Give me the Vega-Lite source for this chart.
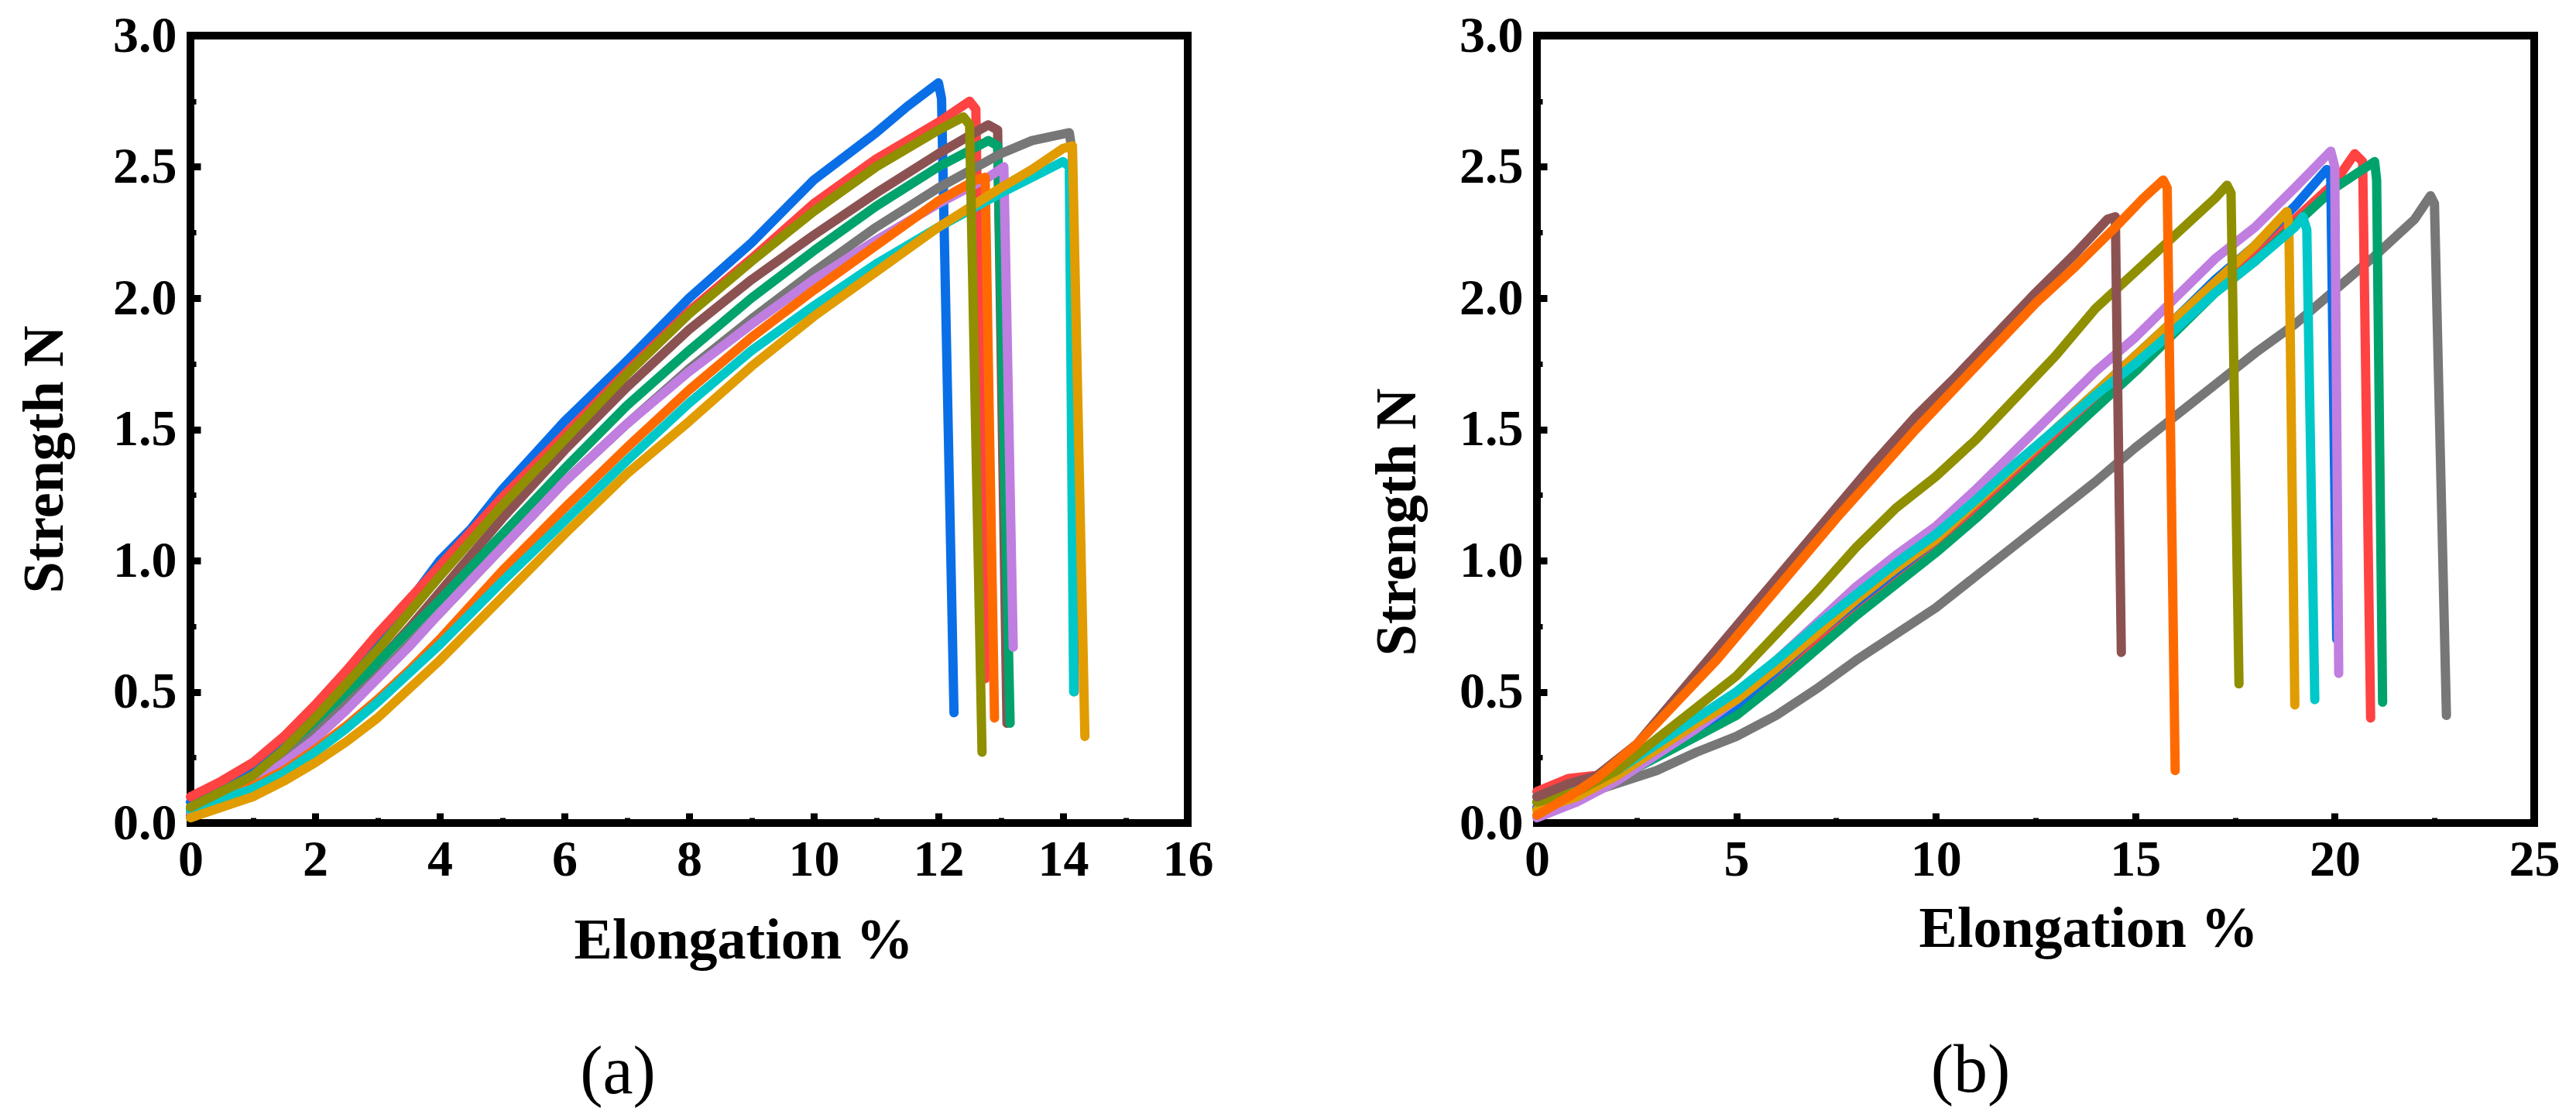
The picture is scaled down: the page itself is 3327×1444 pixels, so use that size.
{
  "$schema": "https://vega.github.io/schema/vega-lite/v6.json",
  "padding": {"left": 16, "top": 8, "right": 10, "bottom": 10},
  "background": "white",
  "bounds": "flush",
  "spacing": 451,
  "datasets": {
    "a": [
      {"s":"blue","x":0,"y":0.08},{"s":"blue","x":0.5,"y":0.14},{"s":"blue","x":1,"y":0.22},{"s":"blue","x":1.5,"y":0.32},{"s":"blue","x":2,"y":0.44},{"s":"blue","x":2.5,"y":0.57},{"s":"blue","x":3,"y":0.7},{"s":"blue","x":3.5,"y":0.84},{"s":"blue","x":4,"y":1.0},{"s":"blue","x":4.5,"y":1.12},{"s":"blue","x":5,"y":1.27},{"s":"blue","x":6,"y":1.53},{"s":"blue","x":7,"y":1.76},{"s":"blue","x":8,"y":2.0},{"s":"blue","x":9,"y":2.21},{"s":"blue","x":10,"y":2.45},{"s":"blue","x":11,"y":2.63},{"s":"blue","x":11.5,"y":2.73},{"s":"blue","x":12,"y":2.82},{"s":"blue","x":12.05,"y":2.76},{"s":"blue","x":12.25,"y":0.42},
      {"s":"red","x":0,"y":0.1},{"s":"red","x":0.5,"y":0.16},{"s":"red","x":1,"y":0.23},{"s":"red","x":1.5,"y":0.33},{"s":"red","x":2,"y":0.45},{"s":"red","x":2.5,"y":0.58},{"s":"red","x":3,"y":0.72},{"s":"red","x":3.5,"y":0.85},{"s":"red","x":4,"y":0.98},{"s":"red","x":5,"y":1.24},{"s":"red","x":6,"y":1.48},{"s":"red","x":7,"y":1.72},{"s":"red","x":8,"y":1.95},{"s":"red","x":9,"y":2.15},{"s":"red","x":10,"y":2.36},{"s":"red","x":11,"y":2.53},{"s":"red","x":12,"y":2.67},{"s":"red","x":12.5,"y":2.75},{"s":"red","x":12.6,"y":2.72},{"s":"red","x":12.75,"y":0.55},
      {"s":"brown","x":0,"y":0.03},{"s":"brown","x":0.5,"y":0.08},{"s":"brown","x":1,"y":0.15},{"s":"brown","x":1.5,"y":0.24},{"s":"brown","x":2,"y":0.36},{"s":"brown","x":2.5,"y":0.48},{"s":"brown","x":3,"y":0.61},{"s":"brown","x":3.5,"y":0.74},{"s":"brown","x":4,"y":0.88},{"s":"brown","x":5,"y":1.16},{"s":"brown","x":6,"y":1.42},{"s":"brown","x":7,"y":1.66},{"s":"brown","x":8,"y":1.88},{"s":"brown","x":9,"y":2.07},{"s":"brown","x":10,"y":2.24},{"s":"brown","x":11,"y":2.4},{"s":"brown","x":12,"y":2.55},{"s":"brown","x":12.8,"y":2.66},{"s":"brown","x":12.95,"y":2.64},{"s":"brown","x":13.1,"y":0.38},
      {"s":"green","x":0,"y":0.05},{"s":"green","x":0.5,"y":0.1},{"s":"green","x":1,"y":0.17},{"s":"green","x":1.5,"y":0.26},{"s":"green","x":2,"y":0.37},{"s":"green","x":2.5,"y":0.49},{"s":"green","x":3,"y":0.61},{"s":"green","x":3.5,"y":0.73},{"s":"green","x":4,"y":0.85},{"s":"green","x":5,"y":1.1},{"s":"green","x":6,"y":1.35},{"s":"green","x":7,"y":1.59},{"s":"green","x":8,"y":1.8},{"s":"green","x":9,"y":2.0},{"s":"green","x":10,"y":2.18},{"s":"green","x":11,"y":2.35},{"s":"green","x":12,"y":2.5},{"s":"green","x":12.8,"y":2.6},{"s":"green","x":12.95,"y":2.58},{"s":"green","x":13.15,"y":0.38},
      {"s":"gray","x":0,"y":0.05},{"s":"gray","x":0.5,"y":0.1},{"s":"gray","x":1,"y":0.16},{"s":"gray","x":1.5,"y":0.24},{"s":"gray","x":2,"y":0.34},{"s":"gray","x":2.5,"y":0.45},{"s":"gray","x":3,"y":0.56},{"s":"gray","x":3.5,"y":0.68},{"s":"gray","x":4,"y":0.8},{"s":"gray","x":5,"y":1.05},{"s":"gray","x":6,"y":1.3},{"s":"gray","x":7,"y":1.52},{"s":"gray","x":8,"y":1.73},{"s":"gray","x":9,"y":1.92},{"s":"gray","x":10,"y":2.1},{"s":"gray","x":11,"y":2.27},{"s":"gray","x":12,"y":2.42},{"s":"gray","x":13,"y":2.55},{"s":"gray","x":13.5,"y":2.6},{"s":"gray","x":14.1,"y":2.63},{"s":"gray","x":14.15,"y":2.55},{"s":"gray","x":14.18,"y":0.5},
      {"s":"purple","x":0,"y":0.04},{"s":"purple","x":0.5,"y":0.09},{"s":"purple","x":1,"y":0.15},{"s":"purple","x":1.5,"y":0.23},{"s":"purple","x":2,"y":0.32},{"s":"purple","x":2.5,"y":0.43},{"s":"purple","x":3,"y":0.55},{"s":"purple","x":3.5,"y":0.67},{"s":"purple","x":4,"y":0.8},{"s":"purple","x":5,"y":1.05},{"s":"purple","x":6,"y":1.3},{"s":"purple","x":7,"y":1.52},{"s":"purple","x":8,"y":1.72},{"s":"purple","x":9,"y":1.9},{"s":"purple","x":10,"y":2.07},{"s":"purple","x":11,"y":2.22},{"s":"purple","x":12,"y":2.36},{"s":"purple","x":12.8,"y":2.46},{"s":"purple","x":13.05,"y":2.5},{"s":"purple","x":13.2,"y":0.67},
      {"s":"orange","x":0,"y":0.06},{"s":"orange","x":0.5,"y":0.1},{"s":"orange","x":1,"y":0.14},{"s":"orange","x":1.5,"y":0.2},{"s":"orange","x":2,"y":0.28},{"s":"orange","x":2.5,"y":0.37},{"s":"orange","x":3,"y":0.47},{"s":"orange","x":3.5,"y":0.58},{"s":"orange","x":4,"y":0.7},{"s":"orange","x":5,"y":0.96},{"s":"orange","x":6,"y":1.2},{"s":"orange","x":7,"y":1.43},{"s":"orange","x":8,"y":1.65},{"s":"orange","x":9,"y":1.85},{"s":"orange","x":10,"y":2.03},{"s":"orange","x":11,"y":2.2},{"s":"orange","x":12,"y":2.37},{"s":"orange","x":12.6,"y":2.45},{"s":"orange","x":12.75,"y":2.46},{"s":"orange","x":12.9,"y":0.4},
      {"s":"cyan","x":0,"y":0.05},{"s":"cyan","x":0.5,"y":0.09},{"s":"cyan","x":1,"y":0.13},{"s":"cyan","x":1.5,"y":0.19},{"s":"cyan","x":2,"y":0.27},{"s":"cyan","x":2.5,"y":0.36},{"s":"cyan","x":3,"y":0.46},{"s":"cyan","x":3.5,"y":0.57},{"s":"cyan","x":4,"y":0.68},{"s":"cyan","x":5,"y":0.92},{"s":"cyan","x":6,"y":1.15},{"s":"cyan","x":7,"y":1.38},{"s":"cyan","x":8,"y":1.6},{"s":"cyan","x":9,"y":1.8},{"s":"cyan","x":10,"y":1.97},{"s":"cyan","x":11,"y":2.13},{"s":"cyan","x":12,"y":2.27},{"s":"cyan","x":13,"y":2.4},{"s":"cyan","x":13.5,"y":2.46},{"s":"cyan","x":14,"y":2.52},{"s":"cyan","x":14.1,"y":2.5},{"s":"cyan","x":14.17,"y":0.5},
      {"s":"gold","x":0,"y":0.02},{"s":"gold","x":0.5,"y":0.06},{"s":"gold","x":1,"y":0.1},{"s":"gold","x":1.5,"y":0.16},{"s":"gold","x":2,"y":0.23},{"s":"gold","x":2.5,"y":0.31},{"s":"gold","x":3,"y":0.4},{"s":"gold","x":3.5,"y":0.51},{"s":"gold","x":4,"y":0.62},{"s":"gold","x":5,"y":0.86},{"s":"gold","x":6,"y":1.1},{"s":"gold","x":7,"y":1.33},{"s":"gold","x":8,"y":1.53},{"s":"gold","x":9,"y":1.74},{"s":"gold","x":10,"y":1.93},{"s":"gold","x":11,"y":2.1},{"s":"gold","x":12,"y":2.27},{"s":"gold","x":13,"y":2.42},{"s":"gold","x":13.5,"y":2.49},{"s":"gold","x":14,"y":2.57},{"s":"gold","x":14.15,"y":2.58},{"s":"gold","x":14.35,"y":0.33},
      {"s":"olive","x":0,"y":0.06},{"s":"olive","x":0.5,"y":0.12},{"s":"olive","x":1,"y":0.18},{"s":"olive","x":1.5,"y":0.28},{"s":"olive","x":2,"y":0.4},{"s":"olive","x":2.5,"y":0.53},{"s":"olive","x":3,"y":0.66},{"s":"olive","x":3.5,"y":0.8},{"s":"olive","x":4,"y":0.94},{"s":"olive","x":5,"y":1.21},{"s":"olive","x":6,"y":1.46},{"s":"olive","x":7,"y":1.71},{"s":"olive","x":8,"y":1.94},{"s":"olive","x":9,"y":2.14},{"s":"olive","x":10,"y":2.33},{"s":"olive","x":11,"y":2.5},{"s":"olive","x":12,"y":2.64},{"s":"olive","x":12.4,"y":2.69},{"s":"olive","x":12.5,"y":2.66},{"s":"olive","x":12.7,"y":0.27}
    ],
    "b": [
      {"s":"gray","x":0,"y":0.05},{"s":"gray","x":1,"y":0.1},{"s":"gray","x":2,"y":0.15},{"s":"gray","x":3,"y":0.2},{"s":"gray","x":4,"y":0.27},{"s":"gray","x":5,"y":0.33},{"s":"gray","x":6,"y":0.41},{"s":"gray","x":7,"y":0.51},{"s":"gray","x":8,"y":0.62},{"s":"gray","x":9,"y":0.72},{"s":"gray","x":10,"y":0.82},{"s":"gray","x":11,"y":0.94},{"s":"gray","x":12,"y":1.06},{"s":"gray","x":13,"y":1.18},{"s":"gray","x":14,"y":1.3},{"s":"gray","x":15,"y":1.43},{"s":"gray","x":16,"y":1.55},{"s":"gray","x":17,"y":1.67},{"s":"gray","x":18,"y":1.79},{"s":"gray","x":19,"y":1.9},{"s":"gray","x":20,"y":2.03},{"s":"gray","x":21,"y":2.16},{"s":"gray","x":22,"y":2.3},{"s":"gray","x":22.4,"y":2.39},{"s":"gray","x":22.5,"y":2.36},{"s":"gray","x":22.8,"y":0.41},
      {"s":"red","x":0,"y":0.12},{"s":"red","x":0.8,"y":0.17},{"s":"red","x":2,"y":0.19},{"s":"red","x":3,"y":0.27},{"s":"red","x":4,"y":0.35},{"s":"red","x":5,"y":0.43},{"s":"red","x":6,"y":0.56},{"s":"red","x":7,"y":0.69},{"s":"red","x":8,"y":0.82},{"s":"red","x":9,"y":0.94},{"s":"red","x":10,"y":1.05},{"s":"red","x":11,"y":1.18},{"s":"red","x":12,"y":1.32},{"s":"red","x":13,"y":1.47},{"s":"red","x":14,"y":1.6},{"s":"red","x":15,"y":1.74},{"s":"red","x":16,"y":1.88},{"s":"red","x":17,"y":2.03},{"s":"red","x":18,"y":2.16},{"s":"red","x":19,"y":2.3},{"s":"red","x":20,"y":2.44},{"s":"red","x":20.5,"y":2.55},{"s":"red","x":20.7,"y":2.52},{"s":"red","x":20.9,"y":0.4},
      {"s":"green","x":0,"y":0.08},{"s":"green","x":1,"y":0.12},{"s":"green","x":2,"y":0.17},{"s":"green","x":3,"y":0.25},{"s":"green","x":4,"y":0.33},{"s":"green","x":5,"y":0.41},{"s":"green","x":6,"y":0.53},{"s":"green","x":7,"y":0.66},{"s":"green","x":8,"y":0.79},{"s":"green","x":9,"y":0.91},{"s":"green","x":10,"y":1.03},{"s":"green","x":11,"y":1.16},{"s":"green","x":12,"y":1.3},{"s":"green","x":13,"y":1.44},{"s":"green","x":14,"y":1.58},{"s":"green","x":15,"y":1.72},{"s":"green","x":16,"y":1.87},{"s":"green","x":17,"y":2.02},{"s":"green","x":18,"y":2.14},{"s":"green","x":19,"y":2.28},{"s":"green","x":20,"y":2.42},{"s":"green","x":20.5,"y":2.47},{"s":"green","x":21,"y":2.52},{"s":"green","x":21.05,"y":2.45},{"s":"green","x":21.2,"y":0.46},
      {"s":"blue","x":0,"y":0.06},{"s":"blue","x":1,"y":0.1},{"s":"blue","x":2,"y":0.17},{"s":"blue","x":3,"y":0.27},{"s":"blue","x":4,"y":0.36},{"s":"blue","x":5,"y":0.45},{"s":"blue","x":6,"y":0.58},{"s":"blue","x":7,"y":0.72},{"s":"blue","x":8,"y":0.84},{"s":"blue","x":9,"y":0.96},{"s":"blue","x":10,"y":1.08},{"s":"blue","x":11,"y":1.22},{"s":"blue","x":12,"y":1.36},{"s":"blue","x":13,"y":1.5},{"s":"blue","x":14,"y":1.64},{"s":"blue","x":15,"y":1.78},{"s":"blue","x":16,"y":1.92},{"s":"blue","x":17,"y":2.07},{"s":"blue","x":18,"y":2.2},{"s":"blue","x":19,"y":2.35},{"s":"blue","x":19.8,"y":2.49},{"s":"blue","x":19.9,"y":2.46},{"s":"blue","x":20.05,"y":0.7},
      {"s":"purple","x":0,"y":0.02},{"s":"purple","x":1,"y":0.08},{"s":"purple","x":2,"y":0.16},{"s":"purple","x":3,"y":0.26},{"s":"purple","x":4,"y":0.36},{"s":"purple","x":5,"y":0.47},{"s":"purple","x":6,"y":0.62},{"s":"purple","x":7,"y":0.76},{"s":"purple","x":8,"y":0.9},{"s":"purple","x":9,"y":1.02},{"s":"purple","x":10,"y":1.13},{"s":"purple","x":11,"y":1.27},{"s":"purple","x":12,"y":1.42},{"s":"purple","x":13,"y":1.57},{"s":"purple","x":14,"y":1.72},{"s":"purple","x":15,"y":1.85},{"s":"purple","x":16,"y":2.0},{"s":"purple","x":17,"y":2.15},{"s":"purple","x":18,"y":2.27},{"s":"purple","x":19,"y":2.42},{"s":"purple","x":19.9,"y":2.56},{"s":"purple","x":20,"y":2.5},{"s":"purple","x":20.1,"y":0.57},
      {"s":"gold","x":0,"y":0.05},{"s":"gold","x":1,"y":0.1},{"s":"gold","x":2,"y":0.18},{"s":"gold","x":3,"y":0.28},{"s":"gold","x":4,"y":0.38},{"s":"gold","x":5,"y":0.47},{"s":"gold","x":6,"y":0.59},{"s":"gold","x":7,"y":0.72},{"s":"gold","x":8,"y":0.85},{"s":"gold","x":9,"y":0.97},{"s":"gold","x":10,"y":1.08},{"s":"gold","x":11,"y":1.22},{"s":"gold","x":12,"y":1.36},{"s":"gold","x":13,"y":1.5},{"s":"gold","x":14,"y":1.64},{"s":"gold","x":15,"y":1.78},{"s":"gold","x":16,"y":1.92},{"s":"gold","x":17,"y":2.06},{"s":"gold","x":18,"y":2.2},{"s":"gold","x":18.8,"y":2.33},{"s":"gold","x":18.85,"y":2.28},{"s":"gold","x":19,"y":0.45},
      {"s":"cyan","x":0,"y":0.1},{"s":"cyan","x":1,"y":0.13},{"s":"cyan","x":2,"y":0.2},{"s":"cyan","x":3,"y":0.3},{"s":"cyan","x":4,"y":0.4},{"s":"cyan","x":5,"y":0.5},{"s":"cyan","x":6,"y":0.62},{"s":"cyan","x":7,"y":0.75},{"s":"cyan","x":8,"y":0.87},{"s":"cyan","x":9,"y":0.99},{"s":"cyan","x":10,"y":1.1},{"s":"cyan","x":11,"y":1.23},{"s":"cyan","x":12,"y":1.37},{"s":"cyan","x":13,"y":1.5},{"s":"cyan","x":14,"y":1.63},{"s":"cyan","x":15,"y":1.75},{"s":"cyan","x":16,"y":1.88},{"s":"cyan","x":17,"y":2.02},{"s":"cyan","x":18,"y":2.14},{"s":"cyan","x":19,"y":2.27},{"s":"cyan","x":19.2,"y":2.31},{"s":"cyan","x":19.3,"y":2.26},{"s":"cyan","x":19.5,"y":0.47},
      {"s":"olive","x":0,"y":0.08},{"s":"olive","x":1,"y":0.12},{"s":"olive","x":2,"y":0.2},{"s":"olive","x":3,"y":0.32},{"s":"olive","x":4,"y":0.44},{"s":"olive","x":5,"y":0.56},{"s":"olive","x":6,"y":0.72},{"s":"olive","x":7,"y":0.88},{"s":"olive","x":8,"y":1.05},{"s":"olive","x":9,"y":1.2},{"s":"olive","x":10,"y":1.32},{"s":"olive","x":11,"y":1.46},{"s":"olive","x":12,"y":1.62},{"s":"olive","x":13,"y":1.78},{"s":"olive","x":14,"y":1.96},{"s":"olive","x":15,"y":2.1},{"s":"olive","x":16,"y":2.24},{"s":"olive","x":17,"y":2.38},{"s":"olive","x":17.3,"y":2.43},{"s":"olive","x":17.4,"y":2.4},{"s":"olive","x":17.6,"y":0.53},
      {"s":"brown","x":0,"y":0.1},{"s":"brown","x":0.8,"y":0.15},{"s":"brown","x":1.5,"y":0.18},{"s":"brown","x":2.5,"y":0.3},{"s":"brown","x":3.5,"y":0.48},{"s":"brown","x":4.5,"y":0.66},{"s":"brown","x":5.5,"y":0.84},{"s":"brown","x":6.5,"y":1.02},{"s":"brown","x":7.5,"y":1.2},{"s":"brown","x":8.5,"y":1.38},{"s":"brown","x":9.5,"y":1.55},{"s":"brown","x":10.5,"y":1.7},{"s":"brown","x":11.5,"y":1.86},{"s":"brown","x":12.5,"y":2.02},{"s":"brown","x":13.5,"y":2.17},{"s":"brown","x":14.3,"y":2.3},{"s":"brown","x":14.5,"y":2.31},{"s":"brown","x":14.65,"y":0.65},
      {"s":"orange","x":0,"y":0.03},{"s":"orange","x":0.8,"y":0.1},{"s":"orange","x":1.5,"y":0.17},{"s":"orange","x":2.5,"y":0.3},{"s":"orange","x":3.5,"y":0.46},{"s":"orange","x":4.5,"y":0.62},{"s":"orange","x":5.5,"y":0.8},{"s":"orange","x":6.5,"y":0.98},{"s":"orange","x":7.5,"y":1.16},{"s":"orange","x":8.5,"y":1.33},{"s":"orange","x":9.5,"y":1.5},{"s":"orange","x":10.5,"y":1.66},{"s":"orange","x":11.5,"y":1.82},{"s":"orange","x":12.5,"y":1.98},{"s":"orange","x":13.5,"y":2.12},{"s":"orange","x":14.5,"y":2.27},{"s":"orange","x":15.2,"y":2.38},{"s":"orange","x":15.7,"y":2.45},{"s":"orange","x":15.8,"y":2.42},{"s":"orange","x":16,"y":0.2}
    ]
  },
  "hconcat": [
    {
      "width": 1288,
      "height": 1017,
      "data": {"name": "a"},
      "title": {"text": "(a)", "orient": "bottom", "anchor": "middle", "frame": "group", "dx": -92, "offset": 90},
      "resolve": {"axis": {"x": "independent", "y": "independent"}},
      "layer": [
        {
          "mark": {"type": "line", "strokeWidth": 12, "strokeJoin": "round", "strokeCap": "round"},
          "encoding": {
            "x": {"field": "x", "type": "quantitative", "scale": {"domain": [0, 16], "nice": false},
              "axis": {"orient": "bottom", "title": "Elongation %", "values": [0, 2, 4, 6, 8, 10, 12, 14, 16], "titleX": 714, "titlePadding": 36}},
            "y": {"field": "y", "type": "quantitative", "scale": {"domain": [0, 3], "nice": false},
              "axis": {"orient": "left", "title": "Strength N", "values": [0, 0.5, 1, 1.5, 2, 2.5, 3], "format": ".1f", "titleY": 547, "titlePadding": 49}},
            "color": {"field": "s", "type": "nominal", "legend": null,
              "scale": {"domain": ["blue", "red", "brown", "green", "gray", "purple", "orange", "cyan", "gold", "olive"],
                "range": ["#0a6fe6", "#ff4242", "#8c5252", "#00a36c", "#777777", "#c07ee0", "#ff6a00", "#00c8c8", "#e09c00", "#8f8f00"]}}
          }
        },
        {
          "mark": {"type": "line", "strokeOpacity": 0},
          "encoding": {
            "x": {"field": "x", "type": "quantitative",
              "axis": {"orient": "bottom", "title": null, "labels": false, "values": [1, 3, 5, 7, 9, 11, 13, 15], "tickSize": -7, "tickWidth": 7}},
            "y": {"field": "y", "type": "quantitative",
              "axis": {"orient": "left", "title": null, "labels": false, "values": [0.25, 0.75, 1.25, 1.75, 2.25, 2.75], "tickSize": -7, "tickWidth": 7}},
            "detail": {"field": "s"}
          }
        }
      ]
    },
    {
      "width": 1288,
      "height": 1017,
      "data": {"name": "b"},
      "title": {"text": "(b)", "orient": "bottom", "anchor": "middle", "frame": "group", "dx": -84, "offset": 103},
      "resolve": {"axis": {"x": "independent", "y": "independent"}},
      "layer": [
        {
          "mark": {"type": "line", "strokeWidth": 12, "strokeJoin": "round", "strokeCap": "round"},
          "encoding": {
            "x": {"field": "x", "type": "quantitative", "scale": {"domain": [0, 25], "nice": false},
              "axis": {"orient": "bottom", "title": "Elongation %", "values": [0, 5, 10, 15, 20, 25], "titleX": 712, "titlePadding": 21}},
            "y": {"field": "y", "type": "quantitative", "scale": {"domain": [0, 3], "nice": false},
              "axis": {"orient": "left", "title": "Strength N", "values": [0, 0.5, 1, 1.5, 2, 2.5, 3], "format": ".1f", "titleY": 628, "titlePadding": 41}},
            "color": {"field": "s", "type": "nominal", "legend": null,
              "scale": {"domain": ["gray", "red", "green", "blue", "purple", "gold", "cyan", "olive", "brown", "orange"],
                "range": ["#777777", "#ff4242", "#00a36c", "#0a6fe6", "#c07ee0", "#e09c00", "#00c8c8", "#8f8f00", "#8c5252", "#ff6a00"]}}
          }
        },
        {
          "mark": {"type": "line", "strokeOpacity": 0},
          "encoding": {
            "x": {"field": "x", "type": "quantitative",
              "axis": {"orient": "bottom", "title": null, "labels": false, "values": [2.5, 7.5, 12.5, 17.5, 22.5], "tickSize": -7, "tickWidth": 7}},
            "y": {"field": "y", "type": "quantitative",
              "axis": {"orient": "left", "title": null, "labels": false, "values": [0.25, 0.75, 1.25, 1.75, 2.25, 2.75], "tickSize": -7, "tickWidth": 7}},
            "detail": {"field": "s"}
          }
        }
      ]
    }
  ],
  "config": {
    "font": "Liberation Serif",
    "view": {"stroke": "black", "strokeWidth": 10},
    "axis": {
      "domain": false,
      "grid": false,
      "labelFont": "Liberation Serif",
      "labelFontWeight": "bold",
      "labelFontSize": 66,
      "labelColor": "black",
      "labelFlush": false,
      "labelOverlap": false,
      "labelBound": false,
      "titleFont": "Liberation Serif",
      "titleFontWeight": "bold",
      "titleFontSize": 74,
      "titleColor": "black",
      "tickColor": "black",
      "tickWidth": 9,
      "tickSize": -13
    },
    "axisX": {"labelPadding": 28},
    "axisY": {"labelPadding": 31},
    "title": {"font": "Liberation Serif", "fontSize": 88, "fontWeight": "normal", "color": "black"}
  }
}
